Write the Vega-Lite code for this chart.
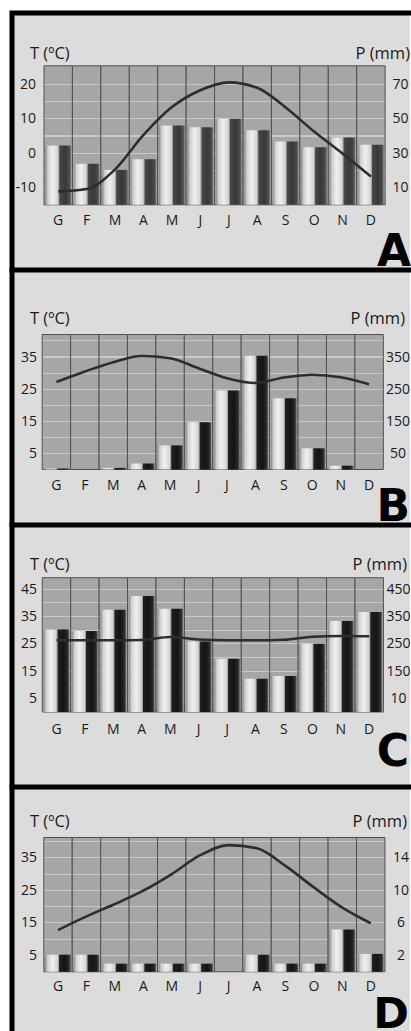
{
  "$schema": "https://vega.github.io/schema/vega-lite/v6.json",
  "padding": {"left": 8, "top": 9, "right": 0, "bottom": 0},
  "background": "white",
  "bounds": "flush",
  "spacing": 0,
  "config": {
    "view": {"stroke": "black", "strokeWidth": 5, "fill": "#dcdcdc", "strokeCap": "square"},
    "axis": {"domain": false, "ticks": false, "tickSize": 0, "grid": false, "labelFont": "Open Sans", "titleFont": "Open Sans", "labelFontSize": 14, "titleFontSize": 16.5, "titleFontWeight": "normal", "labelColor": "#1a1a1a", "titleColor": "#1a1a1a", "labelOverlap": false, "labelFlush": false}
  },
  "datasets": {
    "A": [
      {"month": "Gen", "P": 34.5, "T": -11.1},
      {"month": "Feb", "P": 23.8, "T": -10.4},
      {"month": "Mar", "P": 20.3, "T": -4.7},
      {"month": "Apr", "P": 26.5, "T": 5.3},
      {"month": "May", "P": 46.1, "T": 13.4},
      {"month": "Jun", "P": 45.1, "T": 18.3},
      {"month": "Jul", "P": 50.0, "T": 20.6},
      {"month": "Aug", "P": 43.4, "T": 19.0},
      {"month": "Sep", "P": 36.8, "T": 13.3},
      {"month": "Oct", "P": 33.5, "T": 6.3},
      {"month": "Nov", "P": 39.1, "T": -0.1},
      {"month": "Dec", "P": 34.9, "T": -6.8}
    ],
    "B": [
      {"month": "Gen", "P": 3, "T": 27.2},
      {"month": "Feb", "P": 0, "T": 30.5},
      {"month": "Mar", "P": 5, "T": 33.4},
      {"month": "Apr", "P": 19, "T": 35.3},
      {"month": "May", "P": 75, "T": 34.6},
      {"month": "Jun", "P": 147, "T": 31.5},
      {"month": "Jul", "P": 246, "T": 28.4},
      {"month": "Aug", "P": 354, "T": 26.9},
      {"month": "Sep", "P": 222, "T": 28.6},
      {"month": "Oct", "P": 66, "T": 29.5},
      {"month": "Nov", "P": 12, "T": 28.7},
      {"month": "Dec", "P": 0, "T": 26.5}
    ],
    "C": [
      {"month": "Gen", "P": 303, "T": 26.3},
      {"month": "Feb", "P": 297, "T": 26.3},
      {"month": "Mar", "P": 375, "T": 26.3},
      {"month": "Apr", "P": 425, "T": 26.4},
      {"month": "May", "P": 379, "T": 27.5},
      {"month": "Jun", "P": 259, "T": 26.6},
      {"month": "Jul", "P": 195, "T": 26.3},
      {"month": "Aug", "P": 122, "T": 26.3},
      {"month": "Sep", "P": 132, "T": 26.5},
      {"month": "Oct", "P": 250, "T": 27.6},
      {"month": "Nov", "P": 334, "T": 27.9},
      {"month": "Dec", "P": 367, "T": 27.8}
    ],
    "D": [
      {"month": "Gen", "P": 2.1, "T": 12.8},
      {"month": "Feb", "P": 2.1, "T": 17.0},
      {"month": "Mar", "P": 1.0, "T": 20.8},
      {"month": "Apr", "P": 1.0, "T": 24.9},
      {"month": "May", "P": 1.0, "T": 30.0},
      {"month": "Jun", "P": 1.0, "T": 35.8},
      {"month": "Jul", "P": 0, "T": 38.9},
      {"month": "Aug", "P": 2.1, "T": 37.9},
      {"month": "Sep", "P": 1.0, "T": 32.5},
      {"month": "Oct", "P": 1.0, "T": 25.9},
      {"month": "Nov", "P": 5.2, "T": 19.7},
      {"month": "Dec", "P": 2.2, "T": 14.9}
    ]
  },
  "resolve": {"scale": {"x": "independent", "y": "independent"}},
  "vconcat": [
    {
      "width": 398, "height": 257,
      "view": {"strokeDash": [398, 655, 257]},
      "data": {"name": "A"},
      "encoding": {
        "x": {"field": "month", "type": "nominal", "sort": null,
          "scale": {"type": "band", "paddingInner": 0, "paddingOuter": 1.0924, "align": 0.5628},
          "axis": {"orient": "bottom", "offset": -65.2, "labelPadding": 20, "labelBaseline": "alphabetic", "labelAngle": 0, "labelExpr": "slice(datum.label,0,1)", "title": "A", "titleFont": "DejaVu Sans", "titleFontWeight": "bold", "titleFontSize": 44, "titleColor": "black", "titleX": 398.5, "titleY": 60.5, "titleAlign": "right", "titleBaseline": "alphabetic", "titleAngle": 0}}
      },
      "layer": [
        {
          "mark": {"type": "bar", "width": {"band": 1}, "stroke": "#505050", "strokeWidth": 1,
            "fill": {"gradient": "linear", "x1": 0, "y1": 0, "x2": 0, "y2": 1, "stops": [
              {"offset": 0, "color": "#a6a6a6"},
              {"offset": 0.1297, "color": "#a6a6a6"}, {"offset": 0.1297, "color": "#c9c9c9"}, {"offset": 0.1377, "color": "#c9c9c9"}, {"offset": 0.1377, "color": "#a6a6a6"},
              {"offset": 0.2534, "color": "#a6a6a6"}, {"offset": 0.2534, "color": "#c9c9c9"}, {"offset": 0.2614, "color": "#c9c9c9"}, {"offset": 0.2614, "color": "#a6a6a6"},
              {"offset": 0.3772, "color": "#a6a6a6"}, {"offset": 0.3772, "color": "#c9c9c9"}, {"offset": 0.3852, "color": "#c9c9c9"}, {"offset": 0.3852, "color": "#a6a6a6"},
              {"offset": 0.501, "color": "#a6a6a6"}, {"offset": 0.501, "color": "#c9c9c9"}, {"offset": 0.509, "color": "#c9c9c9"}, {"offset": 0.509, "color": "#a6a6a6"},
              {"offset": 0.6247, "color": "#a6a6a6"}, {"offset": 0.6247, "color": "#c9c9c9"}, {"offset": 0.6327, "color": "#c9c9c9"}, {"offset": 0.6327, "color": "#a6a6a6"},
              {"offset": 0.7485, "color": "#a6a6a6"}, {"offset": 0.7485, "color": "#c9c9c9"}, {"offset": 0.7565, "color": "#c9c9c9"}, {"offset": 0.7565, "color": "#a6a6a6"},
              {"offset": 0.8722, "color": "#a6a6a6"}, {"offset": 0.8722, "color": "#c9c9c9"}, {"offset": 0.8802, "color": "#c9c9c9"}, {"offset": 0.8802, "color": "#a6a6a6"},
              {"offset": 1, "color": "#a6a6a6"}]}},
          "encoding": {
            "y": {"datum": -15, "type": "quantitative", "scale": {"domain": [-33.95, 40.75], "nice": false, "zero": false}, "axis": null},
            "y2": {"datum": 25.4}
          }
        },
        {
          "mark": {"type": "bar", "width": {"band": 0.9},
            "fill": {"gradient": "linear", "x1": 0, "y1": 0, "x2": 1, "y2": 0, "stops": [
              {"offset": 0, "color": "#8a8a8a"}, {"offset": 0.1, "color": "#d2d2d2"}, {"offset": 0.28, "color": "#f0f0f0"}, {"offset": 0.48, "color": "#d4d4d4"}, {"offset": 0.53, "color": "#9a9a9a"}, {"offset": 0.56, "color": "#474747"}, {"offset": 0.78, "color": "#383838"}, {"offset": 0.93, "color": "#4a4a4a"}, {"offset": 1, "color": "#777777"}]}},
          "encoding": {
            "y": {"field": "P", "type": "quantitative", "scale": {"domain": [-37.9, 111.5], "nice": false, "zero": false},
              "axis": {"orient": "right", "offset": -10, "values": [10, 30, 50, 70], "labelPadding": 0, "labelAlign": "center", "labelBaseline": "middle", "title": "P (mm)", "titleAngle": 0, "titleAlign": "right", "titleBaseline": "alphabetic", "titleX": 9.5, "titleY": 45}}
          }
        },
        {
          "mark": {"type": "line", "interpolate": "monotone", "strokeWidth": 2.6, "color": "#2d2d2d"},
          "encoding": {
            "y": {"field": "T", "type": "quantitative", "scale": {"domain": [-33.95, 40.75], "nice": false, "zero": false},
              "axis": {"orient": "left", "offset": -23.5, "values": [-10, 0, 10, 20], "labelExpr": "datum.value < 0 ? '-' + abs(datum.value) : datum.label", "labelPadding": 0, "labelAlign": "right", "labelBaseline": "middle", "title": "T (ºC)", "titleAngle": 0, "titleAlign": "left", "titleBaseline": "alphabetic", "titleX": -6, "titleY": 45}}
          }
        }
      ],
      "resolve": {"scale": {"y": "independent"}, "axis": {"y": "independent"}}
    },
    {
      "width": 398, "height": 254.5,
      "view": {"strokeDash": [398, 652.5, 254.5]},
      "data": {"name": "B"},
      "encoding": {
        "x": {"field": "month", "type": "nominal", "sort": null,
          "scale": {"type": "band", "paddingInner": 0, "paddingOuter": 1.1712, "align": 0.5308},
          "axis": {"orient": "bottom", "offset": -55, "labelPadding": 20, "labelBaseline": "alphabetic", "labelAngle": 0, "labelExpr": "slice(datum.label,0,1)", "title": "B", "titleFont": "DejaVu Sans", "titleFontWeight": "bold", "titleFontSize": 44, "titleColor": "black", "titleX": 397.5, "titleY": 50.5, "titleAlign": "right", "titleBaseline": "alphabetic", "titleAngle": 0}}
      },
      "layer": [
        {
          "mark": {"type": "bar", "width": {"band": 1}, "stroke": "#505050", "strokeWidth": 1,
            "fill": {"gradient": "linear", "x1": 0, "y1": 0, "x2": 0, "y2": 1, "stops": [
              {"offset": 0, "color": "#a6a6a6"},
              {"offset": 0.0436, "color": "#a6a6a6"}, {"offset": 0.0436, "color": "#c9c9c9"}, {"offset": 0.0516, "color": "#c9c9c9"}, {"offset": 0.0516, "color": "#a6a6a6"},
              {"offset": 0.1627, "color": "#a6a6a6"}, {"offset": 0.1627, "color": "#c9c9c9"}, {"offset": 0.1707, "color": "#c9c9c9"}, {"offset": 0.1707, "color": "#a6a6a6"},
              {"offset": 0.2817, "color": "#a6a6a6"}, {"offset": 0.2817, "color": "#c9c9c9"}, {"offset": 0.2897, "color": "#c9c9c9"}, {"offset": 0.2897, "color": "#a6a6a6"},
              {"offset": 0.4008, "color": "#a6a6a6"}, {"offset": 0.4008, "color": "#c9c9c9"}, {"offset": 0.4088, "color": "#c9c9c9"}, {"offset": 0.4088, "color": "#a6a6a6"},
              {"offset": 0.5198, "color": "#a6a6a6"}, {"offset": 0.5198, "color": "#c9c9c9"}, {"offset": 0.5278, "color": "#c9c9c9"}, {"offset": 0.5278, "color": "#a6a6a6"},
              {"offset": 0.6389, "color": "#a6a6a6"}, {"offset": 0.6389, "color": "#c9c9c9"}, {"offset": 0.6469, "color": "#c9c9c9"}, {"offset": 0.6469, "color": "#a6a6a6"},
              {"offset": 0.7579, "color": "#a6a6a6"}, {"offset": 0.7579, "color": "#c9c9c9"}, {"offset": 0.7659, "color": "#c9c9c9"}, {"offset": 0.7659, "color": "#a6a6a6"},
              {"offset": 0.877, "color": "#a6a6a6"}, {"offset": 0.877, "color": "#c9c9c9"}, {"offset": 0.885, "color": "#c9c9c9"}, {"offset": 0.885, "color": "#a6a6a6"},
              {"offset": 1, "color": "#a6a6a6"}]}},
          "encoding": {
            "y": {"datum": 0, "type": "quantitative", "scale": {"domain": [-17.11, 62.07], "nice": false, "zero": false}, "axis": null},
            "y2": {"datum": 42}
          }
        },
        {
          "mark": {"type": "bar", "width": {"band": 0.9},
            "fill": {"gradient": "linear", "x1": 0, "y1": 0, "x2": 1, "y2": 0, "stops": [
              {"offset": 0, "color": "#8a8a8a"}, {"offset": 0.1, "color": "#d2d2d2"}, {"offset": 0.28, "color": "#f0f0f0"}, {"offset": 0.48, "color": "#d4d4d4"}, {"offset": 0.53, "color": "#9a9a9a"}, {"offset": 0.56, "color": "#202020"}, {"offset": 0.78, "color": "#141414"}, {"offset": 0.93, "color": "#2a2a2a"}, {"offset": 1, "color": "#6a6a6a"}]}},
          "encoding": {
            "y": {"field": "P", "type": "quantitative", "scale": {"domain": [-171.1, 620.7], "nice": false, "zero": false},
              "axis": {"orient": "right", "offset": -12.5, "values": [50, 150, 250, 350], "labelPadding": 0, "labelAlign": "center", "labelBaseline": "middle", "title": "P (mm)", "titleAngle": 0, "titleAlign": "right", "titleBaseline": "alphabetic", "titleX": 7, "titleY": 53}}
          }
        },
        {
          "mark": {"type": "line", "interpolate": "monotone", "strokeWidth": 2.6, "color": "#2d2d2d"},
          "encoding": {
            "y": {"field": "T", "type": "quantitative", "scale": {"domain": [-17.11, 62.07], "nice": false, "zero": false},
              "axis": {"orient": "left", "offset": -24.5, "values": [5, 15, 25, 35], "labelPadding": 0, "labelAlign": "right", "labelBaseline": "middle", "title": "T (ºC)", "titleAngle": 0, "titleAlign": "left", "titleBaseline": "alphabetic", "titleX": -7, "titleY": 53}}
          }
        }
      ],
      "resolve": {"scale": {"y": "independent"}, "axis": {"y": "independent"}}
    },
    {
      "width": 398, "height": 261.5,
      "view": {"strokeDash": [398, 659.5, 261.5]},
      "data": {"name": "C"},
      "encoding": {
        "x": {"field": "month", "type": "nominal", "sort": null,
          "scale": {"type": "band", "paddingInner": 0, "paddingOuter": 1.2364, "align": 0.5324},
          "axis": {"orient": "bottom", "offset": -74.5, "labelPadding": 21.5, "labelBaseline": "alphabetic", "labelAngle": 0, "labelExpr": "slice(datum.label,0,1)", "title": "C", "titleFont": "DejaVu Sans", "titleFontWeight": "bold", "titleFontSize": 44, "titleColor": "black", "titleX": 396.5, "titleY": 53, "titleAlign": "right", "titleBaseline": "alphabetic", "titleAngle": 0}}
      },
      "layer": [
        {
          "mark": {"type": "bar", "width": {"band": 1}, "stroke": "#505050", "strokeWidth": 1,
            "fill": {"gradient": "linear", "x1": 0, "y1": 0, "x2": 0, "y2": 1, "stops": [
              {"offset": 0, "color": "#a6a6a6"},
              {"offset": 0.0823, "color": "#a6a6a6"}, {"offset": 0.0823, "color": "#c9c9c9"}, {"offset": 0.0903, "color": "#c9c9c9"}, {"offset": 0.0903, "color": "#a6a6a6"},
              {"offset": 0.1838, "color": "#a6a6a6"}, {"offset": 0.1838, "color": "#c9c9c9"}, {"offset": 0.1918, "color": "#c9c9c9"}, {"offset": 0.1918, "color": "#a6a6a6"},
              {"offset": 0.2853, "color": "#a6a6a6"}, {"offset": 0.2853, "color": "#c9c9c9"}, {"offset": 0.2933, "color": "#c9c9c9"}, {"offset": 0.2933, "color": "#a6a6a6"},
              {"offset": 0.3869, "color": "#a6a6a6"}, {"offset": 0.3869, "color": "#c9c9c9"}, {"offset": 0.3949, "color": "#c9c9c9"}, {"offset": 0.3949, "color": "#a6a6a6"},
              {"offset": 0.4884, "color": "#a6a6a6"}, {"offset": 0.4884, "color": "#c9c9c9"}, {"offset": 0.4964, "color": "#c9c9c9"}, {"offset": 0.4964, "color": "#a6a6a6"},
              {"offset": 0.5899, "color": "#a6a6a6"}, {"offset": 0.5899, "color": "#c9c9c9"}, {"offset": 0.5979, "color": "#c9c9c9"}, {"offset": 0.5979, "color": "#a6a6a6"},
              {"offset": 0.6914, "color": "#a6a6a6"}, {"offset": 0.6914, "color": "#c9c9c9"}, {"offset": 0.6994, "color": "#c9c9c9"}, {"offset": 0.6994, "color": "#a6a6a6"},
              {"offset": 0.793, "color": "#a6a6a6"}, {"offset": 0.793, "color": "#c9c9c9"}, {"offset": 0.801, "color": "#c9c9c9"}, {"offset": 0.801, "color": "#a6a6a6"},
              {"offset": 0.8945, "color": "#a6a6a6"}, {"offset": 0.8945, "color": "#c9c9c9"}, {"offset": 0.9025, "color": "#c9c9c9"}, {"offset": 0.9025, "color": "#a6a6a6"},
              {"offset": 1, "color": "#a6a6a6"}]}},
          "encoding": {
            "y": {"datum": 0, "type": "quantitative", "scale": {"domain": [-27.32, 68.58], "nice": false, "zero": false}, "axis": null},
            "y2": {"datum": 49.25}
          }
        },
        {
          "mark": {"type": "bar", "width": {"band": 0.9},
            "fill": {"gradient": "linear", "x1": 0, "y1": 0, "x2": 1, "y2": 0, "stops": [
              {"offset": 0, "color": "#8a8a8a"}, {"offset": 0.1, "color": "#d2d2d2"}, {"offset": 0.28, "color": "#f0f0f0"}, {"offset": 0.48, "color": "#d4d4d4"}, {"offset": 0.53, "color": "#9a9a9a"}, {"offset": 0.56, "color": "#202020"}, {"offset": 0.78, "color": "#141414"}, {"offset": 0.93, "color": "#2a2a2a"}, {"offset": 1, "color": "#6a6a6a"}]}},
          "encoding": {
            "y": {"field": "P", "type": "quantitative", "scale": {"domain": [-273.2, 685.8], "nice": false, "zero": false},
              "axis": {"orient": "right", "offset": -12, "values": [50, 150, 250, 350, 450], "labelExpr": "datum.value == 50 ? '10' : datum.label", "labelPadding": 0, "labelAlign": "center", "labelBaseline": "middle", "title": "P (mm)", "titleAngle": 0, "titleAlign": "right", "titleBaseline": "alphabetic", "titleX": 8.5, "titleY": 44.3}}
          }
        },
        {
          "mark": {"type": "line", "interpolate": "monotone", "strokeWidth": 2.6, "color": "#2d2d2d"},
          "encoding": {
            "y": {"field": "T", "type": "quantitative", "scale": {"domain": [-27.32, 68.58], "nice": false, "zero": false},
              "axis": {"orient": "left", "offset": -24.5, "values": [5, 15, 25, 35, 45], "labelPadding": 0, "labelAlign": "right", "labelBaseline": "middle", "title": "T (ºC)", "titleAngle": 0, "titleAlign": "left", "titleBaseline": "alphabetic", "titleX": -7, "titleY": 44.3}}
          }
        }
      ],
      "resolve": {"scale": {"y": "independent"}, "axis": {"y": "independent"}}
    },
    {
      "width": 398, "height": 244,
      "view": {"strokeDash": [398, 642, 244]},
      "data": {"name": "D"},
      "encoding": {
        "x": {"field": "month", "type": "nominal", "sort": null,
          "scale": {"type": "band", "paddingInner": 0, "paddingOuter": 1.1645, "align": 0.5595},
          "axis": {"orient": "bottom", "offset": -59.2, "labelPadding": 19, "labelBaseline": "alphabetic", "labelAngle": 0, "labelExpr": "slice(datum.label,0,1)", "title": "D", "titleFont": "DejaVu Sans", "titleFontWeight": "bold", "titleFontSize": 43, "titleColor": "black", "titleX": 396.5, "titleY": 55.5, "titleAlign": "right", "titleBaseline": "alphabetic", "titleAngle": 0}}
      },
      "layer": [
        {
          "mark": {"type": "bar", "width": {"band": 1}, "stroke": "#505050", "strokeWidth": 1,
            "fill": {"gradient": "linear", "x1": 0, "y1": 0, "x2": 0, "y2": 1, "stops": [
              {"offset": 0, "color": "#a6a6a6"},
              {"offset": 0.0258, "color": "#a6a6a6"}, {"offset": 0.0258, "color": "#c9c9c9"}, {"offset": 0.0338, "color": "#c9c9c9"}, {"offset": 0.0338, "color": "#a6a6a6"},
              {"offset": 0.1471, "color": "#a6a6a6"}, {"offset": 0.1471, "color": "#c9c9c9"}, {"offset": 0.1551, "color": "#c9c9c9"}, {"offset": 0.1551, "color": "#a6a6a6"},
              {"offset": 0.2684, "color": "#a6a6a6"}, {"offset": 0.2684, "color": "#c9c9c9"}, {"offset": 0.2764, "color": "#c9c9c9"}, {"offset": 0.2764, "color": "#a6a6a6"},
              {"offset": 0.3897, "color": "#a6a6a6"}, {"offset": 0.3897, "color": "#c9c9c9"}, {"offset": 0.3977, "color": "#c9c9c9"}, {"offset": 0.3977, "color": "#a6a6a6"},
              {"offset": 0.5109, "color": "#a6a6a6"}, {"offset": 0.5109, "color": "#c9c9c9"}, {"offset": 0.5189, "color": "#c9c9c9"}, {"offset": 0.5189, "color": "#a6a6a6"},
              {"offset": 0.6322, "color": "#a6a6a6"}, {"offset": 0.6322, "color": "#c9c9c9"}, {"offset": 0.6402, "color": "#c9c9c9"}, {"offset": 0.6402, "color": "#a6a6a6"},
              {"offset": 0.7535, "color": "#a6a6a6"}, {"offset": 0.7535, "color": "#c9c9c9"}, {"offset": 0.7615, "color": "#c9c9c9"}, {"offset": 0.7615, "color": "#a6a6a6"},
              {"offset": 0.8747, "color": "#a6a6a6"}, {"offset": 0.8747, "color": "#c9c9c9"}, {"offset": 0.8827, "color": "#c9c9c9"}, {"offset": 0.8827, "color": "#a6a6a6"},
              {"offset": 1, "color": "#a6a6a6"}]}},
          "encoding": {
            "y": {"datum": 0, "type": "quantitative", "scale": {"domain": [-18.18, 56.73], "nice": false, "zero": false}, "axis": null},
            "y2": {"datum": 41.23}
          }
        },
        {
          "mark": {"type": "bar", "width": {"band": 0.9},
            "fill": {"gradient": "linear", "x1": 0, "y1": 0, "x2": 1, "y2": 0, "stops": [
              {"offset": 0, "color": "#8a8a8a"}, {"offset": 0.1, "color": "#d2d2d2"}, {"offset": 0.28, "color": "#f0f0f0"}, {"offset": 0.48, "color": "#d4d4d4"}, {"offset": 0.53, "color": "#9a9a9a"}, {"offset": 0.56, "color": "#202020"}, {"offset": 0.78, "color": "#141414"}, {"offset": 0.93, "color": "#2a2a2a"}, {"offset": 1, "color": "#6a6a6a"}]}},
          "encoding": {
            "y": {"field": "P", "type": "quantitative", "scale": {"domain": [-7.272, 22.692], "nice": false, "zero": false},
              "axis": {"orient": "right", "offset": -9.5, "values": [2, 6, 10, 14], "labelPadding": 0, "labelAlign": "center", "labelBaseline": "middle", "title": "P (mm)", "titleAngle": 0, "titleAlign": "right", "titleBaseline": "alphabetic", "titleX": 6, "titleY": 39.5}}
          }
        },
        {
          "mark": {"type": "line", "interpolate": "monotone", "strokeWidth": 2.6, "color": "#2d2d2d"},
          "encoding": {
            "y": {"field": "T", "type": "quantitative", "scale": {"domain": [-18.18, 56.73], "nice": false, "zero": false},
              "axis": {"orient": "left", "offset": -24.5, "values": [5, 15, 25, 35], "labelPadding": 0, "labelAlign": "right", "labelBaseline": "middle", "title": "T (ºC)", "titleAngle": 0, "titleAlign": "left", "titleBaseline": "alphabetic", "titleX": -7, "titleY": 39.5}}
          }
        }
      ],
      "resolve": {"scale": {"y": "independent"}, "axis": {"y": "independent"}}
    }
  ]
}
